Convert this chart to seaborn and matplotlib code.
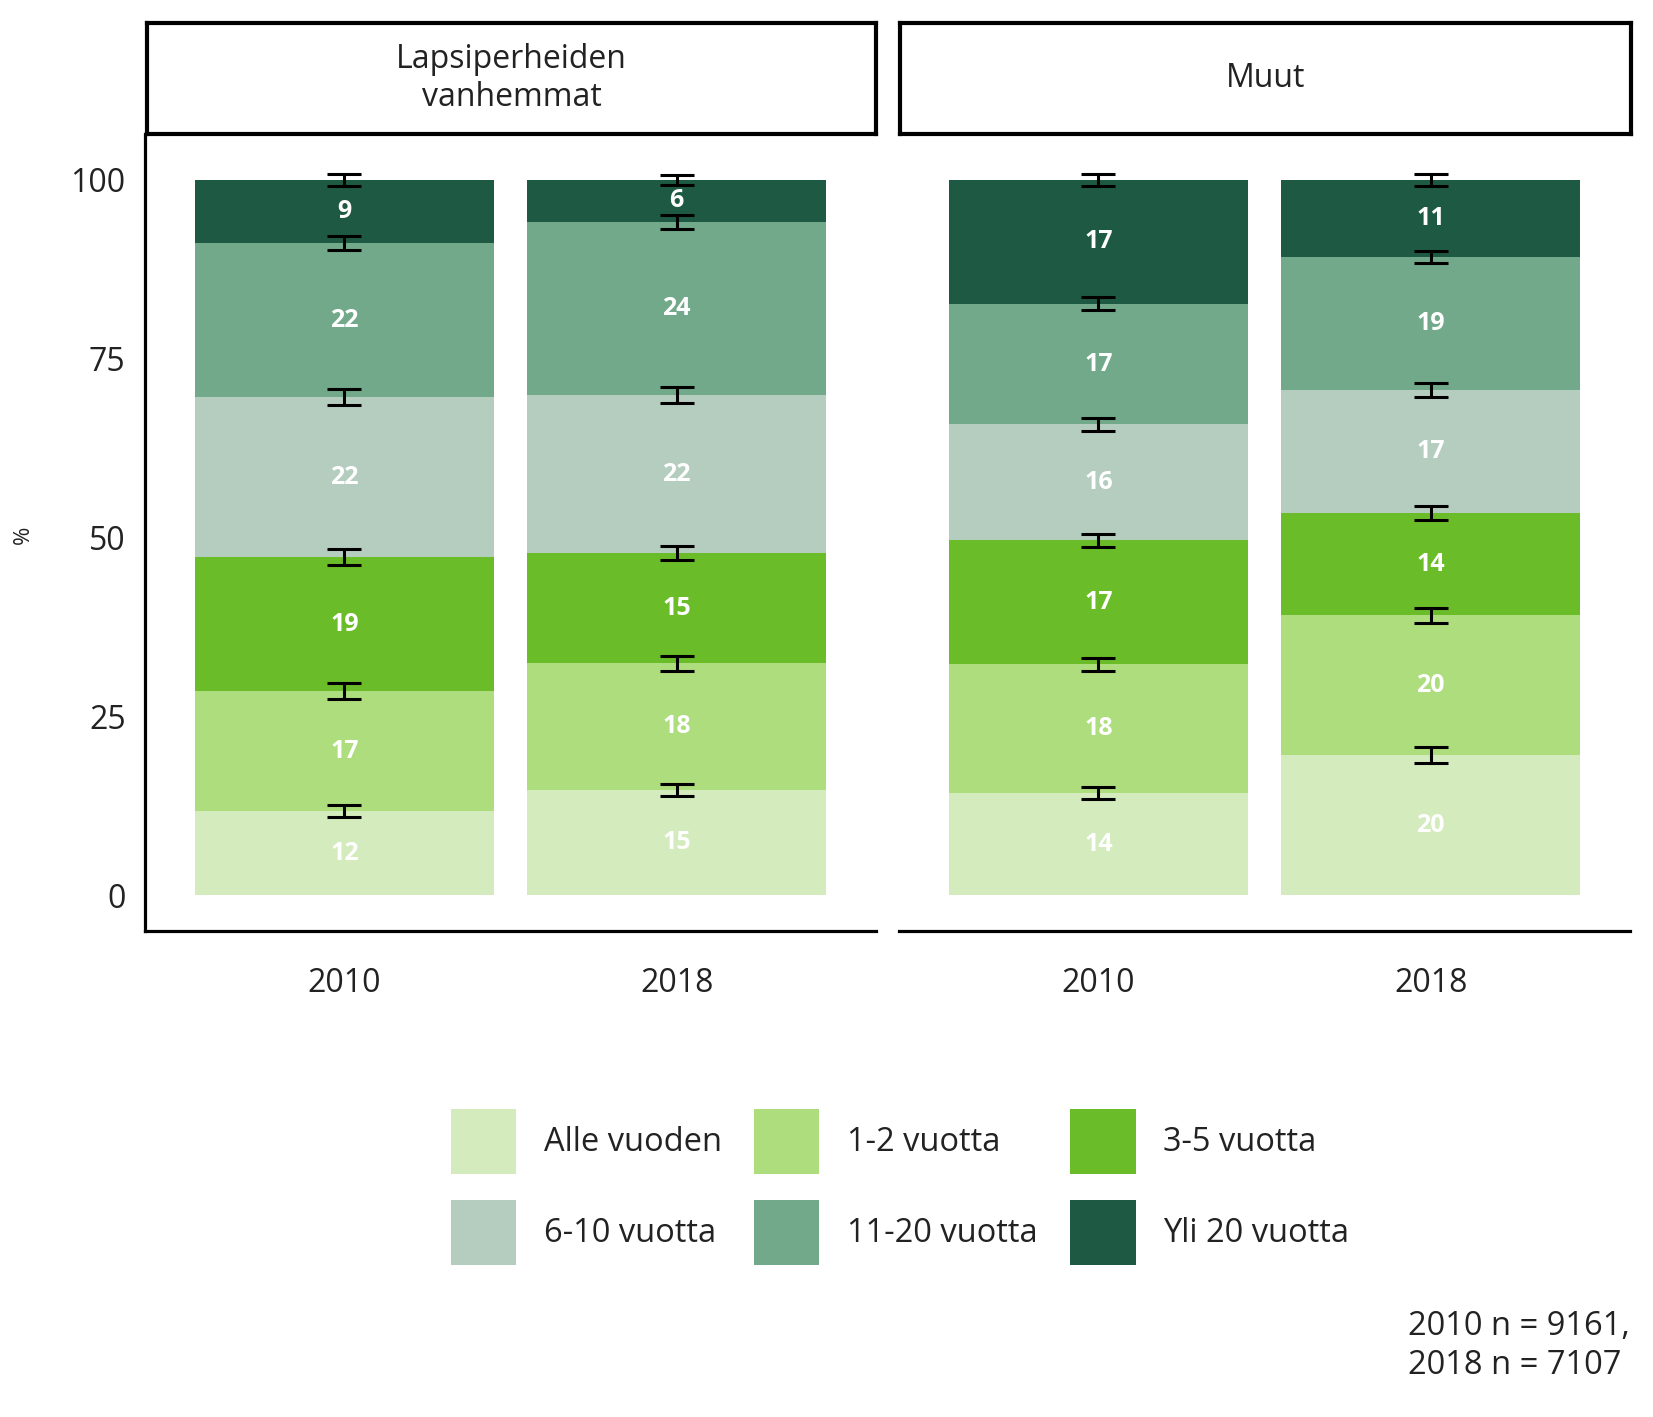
import matplotlib
matplotlib.use("Agg")
import matplotlib.pyplot as plt
import seaborn as sns
import numpy as np
import pandas as pd
from matplotlib.patches import Patch

sns.set_theme(style="white")
plt.rcParams['font.family'] = ['Open Sans', 'DejaVu Sans']

# ---------------- data ----------------
categories = ["Alle vuoden", "1-2 vuotta", "3-5 vuotta",
              "6-10 vuotta", "11-20 vuotta", "Yli 20 vuotta"]
colors = ["#d3ebbd", "#addd7c", "#6abd28", "#b5cdbf", "#72a98a", "#1e5a43"]
groups = ["Lapsiperheiden\nvanhemmat", "Muut"]
years = ["2010", "2018"]

lapsi_2010 = [11.8, 16.7, 18.8, 22.3, 21.6, 8.8]
lapsi_2018 = [14.7, 17.7, 15.4, 22.1, 24.2, 5.9]
muut_2010 = [14.3, 18.0, 17.3, 16.2, 16.9, 17.3]
muut_2018 = [19.6, 19.5, 14.3, 17.2, 18.6, 10.8]

# error half-widths at each cumulative boundary
err_lapsi_2010 = [0.8, 1.1, 1.1, 1.1, 1.0, 0.8]
err_lapsi_2018 = [0.9, 1.1, 1.0, 1.1, 1.0, 0.7]
err_muut_2010 = [0.8, 0.9, 0.9, 0.9, 0.9, 0.8]
err_muut_2018 = [1.1, 1.1, 1.0, 1.0, 0.9, 0.8]

caption = "2010 n = 9161,\n2018 n = 7107"

panel_values = {groups[0]: [lapsi_2010, lapsi_2018], groups[1]: [muut_2010, muut_2018]}
panel_errs = {groups[0]: [err_lapsi_2010, err_lapsi_2018], groups[1]: [err_muut_2010, err_muut_2018]}

W, H = 1653, 1417
fig = plt.figure(figsize=(W / 100, H / 100), dpi=100)

ax_bottom_px, ax_top_px = 931, 134
panels_px = [(145, 876), (899, 1630)]
strips_px = [(147, 876), (900, 1631)]
strip_top_px = 23

for gi, g in enumerate(groups):
    l, r = panels_px[gi]
    ax = fig.add_axes([l / W, 1 - ax_bottom_px / H, (r - l) / W, (ax_bottom_px - ax_top_px) / H])
    rows = []
    for yi, y in enumerate(years):
        vals = panel_values[g][yi]
        errs = panel_errs[g][yi]
        cum = np.cumsum(vals)
        for ci, c in enumerate(categories):
            rows.append(dict(year=y, cat=c, value=vals[ci], cum=cum[ci],
                             mid=cum[ci] - vals[ci] / 2, err=errs[ci]))
    df = pd.DataFrame(rows)
    for ci in range(len(categories) - 1, -1, -1):
        sub = df[df.cat == categories[ci]]
        sns.barplot(data=sub, x="year", y="cum", order=years, color=colors[ci],
                    saturation=1, width=0.9, errorbar=None, linewidth=0, ax=ax)
    # error bars
    pos = {y: i for i, y in enumerate(years)}
    xs = df.year.map(pos).values
    ax.errorbar(xs, df.cum.values, yerr=df.err.values, fmt="none", ecolor="black",
                elinewidth=2.2, capsize=12, capthick=2.2, zorder=5)
    # labels
    for x, m, v in zip(xs, df.mid.values, df.value.values):
        ax.text(x, m, f"{v:.0f}", ha="center", va="center", color="white",
                fontsize=18, fontweight="bold", zorder=6)
    ax.set_xlim(-0.6, 1.6)
    ax.set_ylim(-5, 106.4)
    ax.set_xlabel("")
    ax.set_ylabel("")
    for s in ["top", "right"]:
        ax.spines[s].set_visible(False)
    ax.spines["bottom"].set_linewidth(2.3)
    ax.spines["bottom"].set_color("black")
    if gi == 0:
        ax.spines["left"].set_linewidth(2.3)
        ax.spines["left"].set_color("black")
        ax.set_yticks([0, 25, 50, 75, 100])
        ax.tick_params(axis="y", length=0, pad=14, labelsize=23, labelcolor="#222222")
    else:
        ax.spines["left"].set_visible(False)
        ax.set_yticks([])
    ax.tick_params(axis="x", length=0, pad=26, labelsize=23, labelcolor="#222222")

    # strip
    sl, sr = strips_px[gi]
    sax = fig.add_axes([sl / W, 1 - ax_top_px / H, (sr - sl) / W, (ax_top_px - strip_top_px) / H])
    sax.set_xticks([])
    sax.set_yticks([])
    for s in sax.spines.values():
        s.set_linewidth(3)
        s.set_color("black")
        s.set_visible(True)
    sax.text(0.5, 0.5, g, ha="center", va="center", fontsize=23,
             color="#222222", linespacing=1.2, transform=sax.transAxes)

fig.text(23 / W, 1 - 535 / H, "%", rotation=90, ha="center", va="center",
         fontsize=16, color="#222222")

# legend (row-major order as in reference -> column-major for matplotlib)
order = [0, 3, 1, 4, 2, 5]
handles = [Patch(facecolor=colors[i], edgecolor="none") for i in order]
labels = [categories[i] for i in order]
fig.legend(handles, labels, ncol=3, loc="center",
           bbox_to_anchor=(900 / W, 1 - 1187 / H), frameon=False,
           fontsize=23.5, handlelength=2.0, handleheight=2.7, handletextpad=0.85,
           labelspacing=0.8, columnspacing=1.0, labelcolor="#222222")

fig.text(1630 / W, 1 - 1346 / H, caption, ha="right", va="center",
         multialignment="left", fontsize=23.5, linespacing=1.25, color="#222222")

fig.savefig("out.png", dpi=100, facecolor="white")
